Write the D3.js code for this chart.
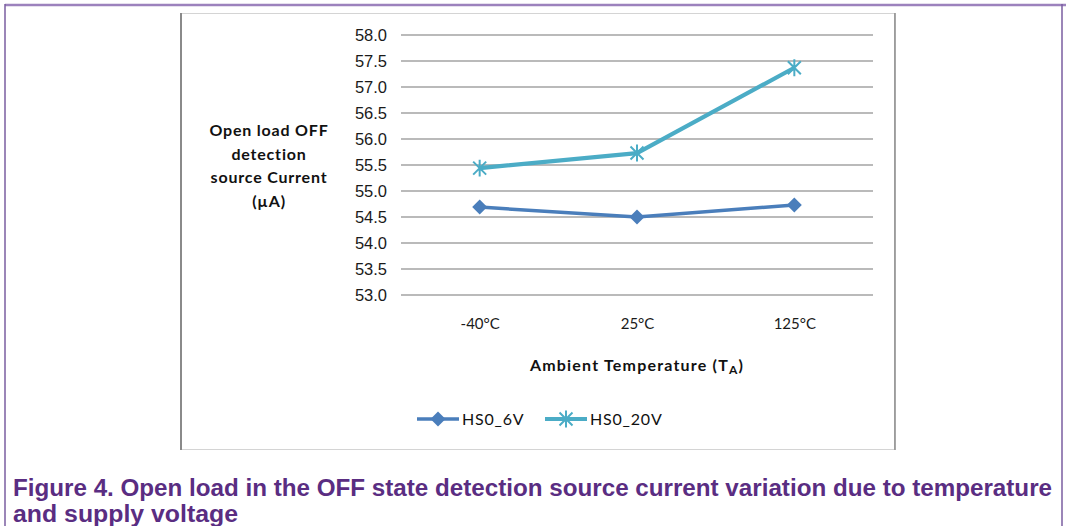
<!DOCTYPE html>
<html><head><meta charset="utf-8">
<script src="https://cdn.jsdelivr.net/npm/d3@7/dist/d3.min.js"></script>
<style>body{margin:0;background:#fff}svg{display:block}</style>
</head><body>
<svg id="c" width="1066" height="526"></svg>
<script>
const categories = ["-40°C", "25°C", "125°C"];
const hs0_6V = [54.69, 54.50, 54.73];
const hs0_20V = [55.44, 55.73, 57.37];
const yTicks = [53.0, 53.5, 54.0, 54.5, 55.0, 55.5, 56.0, 56.5, 57.0, 57.5, 58.0];
const seriesNames = ["HS0_6V", "HS0_20V"];
const yTitleLines = ["Open load OFF", "detection", "source Current", "(µA)"];
const caption = ["Figure 4. Open load in the OFF state detection source current variation due to temperature", "and supply voltage"];

const svg = d3.select("#c");
// page frame
svg.append("line").attr("x1",5).attr("x2",1066).attr("y1",5).attr("y2",5).attr("stroke","#9c82bd").attr("stroke-width",2.5);
svg.append("line").attr("x1",5).attr("x2",5).attr("y1",4).attr("y2",526).attr("stroke","#7a5ea0").attr("stroke-width",1.5);
svg.append("line").attr("x1",1062).attr("x2",1062).attr("y1",4).attr("y2",526).attr("stroke","#7a5ea0").attr("stroke-width",1.5);
// chart box
svg.append("rect").attr("x",180.5).attr("y",13.5).attr("width",714).attr("height",436).attr("fill","#fff").attr("stroke","#d4d4d4").attr("stroke-width",1);
svg.append("line").attr("x1",181).attr("x2",181).attr("y1",13).attr("y2",450).attr("stroke","#8a8a8a").attr("stroke-width",2);
svg.append("line").attr("x1",895).attr("x2",895).attr("y1",13).attr("y2",450).attr("stroke","#8a8a8a").attr("stroke-width",1.5);

const x = d3.scalePoint().domain(categories).range([401, 873]).padding(0.5);
const y = d3.scaleLinear().domain([53, 58]).range([295, 35]);

// gridlines
svg.append("g").selectAll("line").data(yTicks).join("line")
  .attr("x1",401).attr("x2",873).attr("y1",d=>y(d)).attr("y2",d=>y(d))
  .attr("stroke","#a3a3a3").attr("stroke-width",1.5);

// y axis labels
const yAxis = d3.axisLeft(y).tickValues(yTicks).tickFormat(d3.format(".1f")).tickSize(0).tickPadding(0);
const gy = svg.append("g").attr("transform","translate(387,0)").call(yAxis);
gy.select(".domain").remove();
gy.selectAll("text").attr("font-family","Liberation Sans, Arial, sans-serif").attr("font-size",16.5).attr("fill","#1a1a1a").attr("dy","0.36em");

// x axis labels
const xAxis = d3.axisBottom(x).tickSize(0).tickPadding(0);
const gx = svg.append("g").attr("transform","translate(0,318)").call(xAxis);
gx.select(".domain").remove();
gx.selectAll("text").attr("font-family","Lato, 'Open Sans', sans-serif").attr("font-size",15).attr("fill","#1a1a1a").attr("dy","0.71em");

const lbl = "Lato, 'Open Sans', sans-serif";
// y title
svg.append("g").selectAll("text").data(yTitleLines).join("text")
  .attr("x",269).attr("y",(d,i)=>136+i*23.5).attr("text-anchor","middle")
  .attr("font-family",lbl).attr("font-weight","bold").attr("font-size",16).attr("letter-spacing","0.8px").attr("fill","#111")
  .text(d=>d);

// x title
const xt = svg.append("text").attr("x",637).attr("y",371).attr("text-anchor","middle")
  .attr("font-family",lbl).attr("font-weight","bold").attr("font-size",16).attr("letter-spacing","1.2px").attr("fill","#111");
xt.append("tspan").text("Ambient Temperature (T");
xt.append("tspan").attr("font-size",12).attr("dy",3).text("A");
xt.append("tspan").attr("dy",-3).text(")");

const colors = ["#4a7ebb", "#4bacc6"];
const series = [hs0_6V, hs0_20V];
const line = d3.line().x((d,i)=>x(categories[i])).y(d=>y(d));

function diamond(g, cx, cy, s, col){
  g.append("path").attr("d",`M${cx},${cy-s}L${cx+s},${cy}L${cx},${cy+s}L${cx-s},${cy}Z`).attr("fill",col);
}
function star(g, cx, cy, s, col){
  const p = `M${cx-s},${cy-s}L${cx+s},${cy+s}M${cx-s},${cy+s}L${cx+s},${cy-s}M${cx},${cy-s*1.3}L${cx},${cy+s*1.3}`;
  g.append("path").attr("d",p).attr("stroke",col).attr("stroke-width",2).attr("fill","none");
}

series.forEach((vals, si)=>{
  const g = svg.append("g");
  g.append("path").datum(vals).attr("d",line).attr("fill","none").attr("stroke",colors[si]).attr("stroke-width",si===0?3.5:4.2).attr("stroke-linejoin","round");
  vals.forEach((v,i)=>{
    if(si===0) diamond(g, x(categories[i]), y(v), 7.5, colors[si]);
    else star(g, x(categories[i]), y(v), 6.5, colors[si]);
  });
});

// legend
const lg = svg.append("g");
const legX = [417, 545];
seriesNames.forEach((n,i)=>{
  const lx = legX[i];
  lg.append("line").attr("x1",lx).attr("x2",lx+42).attr("y1",419).attr("y2",419).attr("stroke",colors[i]).attr("stroke-width",i===0?3.5:4.2);
  if(i===0) diamond(lg, lx+21, 419, 7.5, colors[i]); else star(lg, lx+21, 419, 6.5, colors[i]);
  lg.append("text").attr("x",lx+45).attr("y",425).attr("font-family",lbl).attr("font-size",16).attr("letter-spacing","0.8px").attr("fill","#111").text(n);
});

// caption
svg.append("g").selectAll("text").data(caption).join("text")
  .attr("x",13).attr("y",(d,i)=>496+i*26)
  .attr("font-family","Liberation Sans, Arial, sans-serif").attr("font-weight","bold").attr("font-size",23).attr("fill","#5a2d82")
  .attr("textLength",(d,i)=>i===0?1039:225).attr("lengthAdjust","spacingAndGlyphs")
  .text(d=>d);
</script>
</body></html>
